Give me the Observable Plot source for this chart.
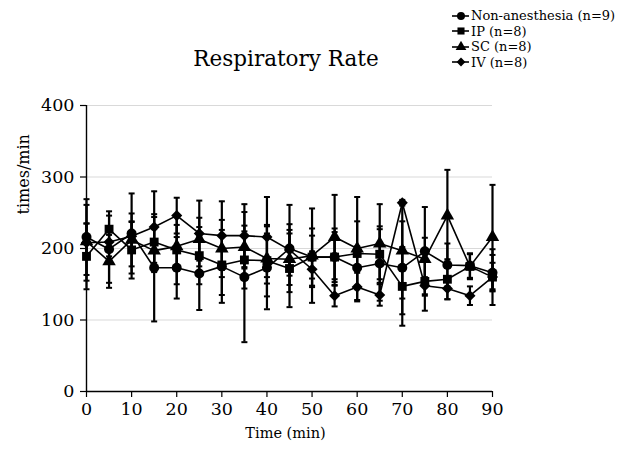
<!DOCTYPE html>
<html><head><meta charset="utf-8">
<script src="https://cdn.jsdelivr.net/npm/d3@7"></script>
<script src="https://cdn.jsdelivr.net/npm/@observablehq/plot@0.6"></script>
<style>
body{margin:0;background:#fff;}
#wrap{position:relative;width:627px;height:449px;font-family:"DejaVu Serif",serif;color:#000;}
#header{position:relative;height:90px;}
#title{position:absolute;left:0;width:572px;text-align:center;top:47px;font-family:"DejaVu Serif",serif;font-size:21.5px;line-height:24px;}
#legend{position:absolute;left:452px;top:8px;font-size:13px;}
.row{display:flex;align-items:center;height:15.5px;white-space:nowrap;}
.row svg{margin-right:1px;}
#chart svg{display:block;}
</style></head>
<body><div id="wrap"><div id="header"><div id="title">Respiratory Rate</div><div id="legend"></div></div><div id="chart"></div></div>
<script>
const times = [0,5,10,15,20,25,30,35,40,45,50,55,60,65,70,75,80,85,90];
const seriesNames = ["Non-anesthesia (n=9)","IP (n=8)","SC (n=8)","IV (n=8)"];
const symbolNames = ["circle","square","triangle","diamond2"];
const yTicks = [0,100,200,300,400];
const xTicks = [0,10,20,30,40,50,60,70,80,90];

const nonAnesMean = [216,199,221,173,173,165,175,160,173,200,188,188,173,179,173,196,177,176,166];
const nonAnesSD   = [53,47,56,75,43,51,51,91,58,61,30,40,30,52,65,62,30,17,25];
const ipMean      = [189,227,198,209,198,190,177,184,183,172,188,188,193,192,147,154,157,175,160];
const ipSD        = [46,25,40,35,48,40,42,40,50,54,40,35,45,35,55,41,28,17,39];
const scMean      = [210,182,212,197,203,213,200,202,186,185,190,216,200,207,197,185,246,175,216];
const scSD        = [25,37,37,30,30,30,40,30,35,36,66,59,72,55,67,30,64,18,73];
const ivMean      = [208,209,217,230,246,221,218,218,216,198,171,134,146,135,264,148,144,134,160];
const ivSD        = [53,20,20,50,25,46,48,44,56,36,25,15,20,15,4,12,15,13,20];

const means = [nonAnesMean, ipMean, scMean, ivMean];
const sds = [nonAnesSD, ipSD, scSD, ivSD];

const rows = [];
seriesNames.forEach((name, i) => times.forEach((t, j) =>
  rows.push({series: name, t, mean: means[i][j], sd: sds[i][j]})));

const cap = {draw(ctx, size) { const w = Math.sqrt(size) / 2; ctx.moveTo(-w, 0); ctx.lineTo(w, 0); }};

const chart = Plot.plot({
  width: 627, height: 359,
  marginLeft: 86, marginRight: 135, marginTop: 15, marginBottom: 58,
  style: {fontFamily: "'DejaVu Serif', serif", background: "white", color: "black", overflow: "visible"},
  x: {domain: [0, 90]},
  y: {domain: [0, 400]},
  symbol: {domain: seriesNames, range: symbolNames},
  marks: [
    Plot.gridY(yTicks.slice(1), {stroke: "#d9d9d9", strokeOpacity: 1, strokeWidth: 1}),
    Plot.ruleX(rows, {x: "t", y1: d => d.mean - d.sd, y2: d => d.mean + d.sd, stroke: "black", strokeWidth: 2.2}),
    Plot.dot(rows, {x: "t", y: d => d.mean + d.sd, symbol: cap, r: 3.4, stroke: "black", strokeWidth: 2, fill: "none"}),
    Plot.dot(rows, {x: "t", y: d => d.mean - d.sd, symbol: cap, r: 3.4, stroke: "black", strokeWidth: 2, fill: "none"}),
    Plot.line(rows, {x: "t", y: "mean", z: "series", stroke: "black", strokeWidth: 1.6}),
    Plot.dot(rows, {x: "t", y: "mean", symbol: "series", fill: "black", stroke: "none", r: 5}),
    Plot.ruleY([0], {stroke: "black", strokeWidth: 1.4}),
    Plot.ruleX([0], {stroke: "black", strokeWidth: 1.4}),
    Plot.axisY({ticks: yTicks, tickSize: 6, tickPadding: 6, fontSize: 17.5, label: null, strokeWidth: 1.2}),
    Plot.axisX({ticks: xTicks, tickSize: 6, tickPadding: 5, fontSize: 17.5, label: null, strokeWidth: 1.2}),
    Plot.text(["Time (min)"], {frameAnchor: "bottom", dx: -4, dy: 46, fontSize: 14.5}),
    Plot.text(["times/min"], {frameAnchor: "left", rotate: -90, dx: -63, dy: -34, fontSize: 16})
  ]
});
document.getElementById("chart").appendChild(chart);

const d3Symbols = [d3.symbolCircle, d3.symbolSquare, d3.symbolTriangle, d3.symbolDiamond2];
const legend = document.getElementById("legend");
seriesNames.forEach((name, i) => {
  const row = document.createElement("div");
  row.className = "row";
  const svg = d3.create("svg").attr("width", 18).attr("height", 12);
  svg.append("line").attr("x1", 0).attr("x2", 17).attr("y1", 6).attr("y2", 6)
    .attr("stroke", "black").attr("stroke-width", 1.6);
  svg.append("path").attr("transform", "translate(9,6)")
    .attr("d", d3.symbol(d3Symbols[i], 50)()).attr("fill", "black");
  row.appendChild(svg.node());
  const span = document.createElement("span");
  span.textContent = name;
  row.appendChild(span);
  legend.appendChild(row);
});
</script>
</body></html>
